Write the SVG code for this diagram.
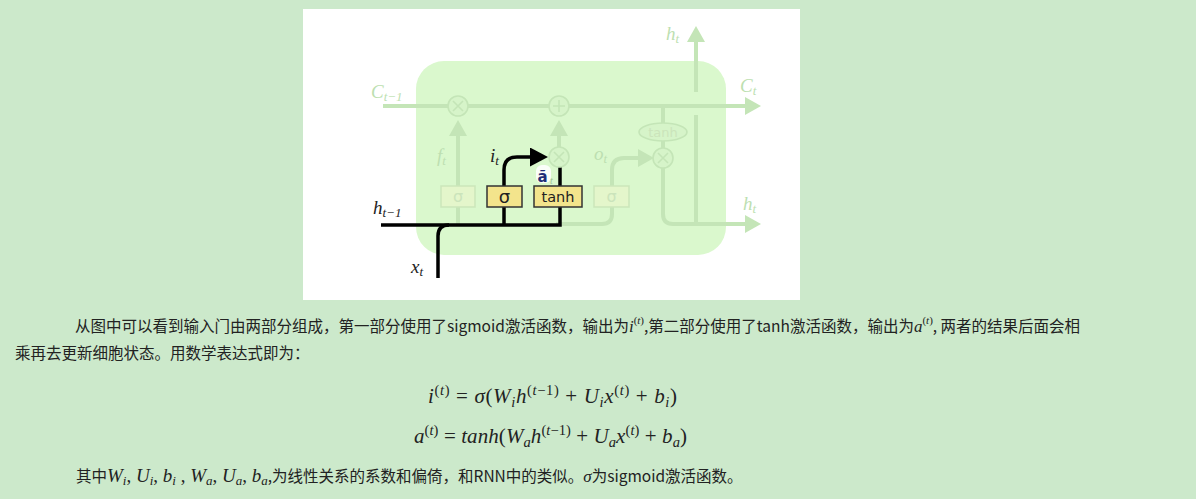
<svg xmlns="http://www.w3.org/2000/svg" width="1196" height="499" viewBox="0 0 1196 499">
<defs>
<style>
.fl{fill:none;stroke:#c4e5b7;stroke-width:4}
.bl{fill:none;stroke:#000;stroke-width:3.5}
.fc{fill:#d6f4c9;stroke:#c4e5b7;stroke-width:1.6}
.fx{stroke:#c4e5b7;stroke-width:1.6}
.fb{fill:#e4f6cb;stroke:#cbe6ba;stroke-width:1.5}
.yb{fill:#f3e48c;stroke:#333;stroke-width:1.5}
.lab{font-family:"Liberation Serif",serif;font-style:italic;font-size:19px;fill:#bddfb1}
.blab{font-family:"Liberation Serif",serif;font-style:italic;font-size:19px;fill:#222}
.sb{font-size:13px}
.bt{font-family:"DejaVu Sans",sans-serif;fill:#222;text-anchor:middle}
.ft{font-family:"DejaVu Sans",sans-serif;fill:#cbe4bb;text-anchor:middle}
.cn{font-family:"Noto Sans CJK SC","Noto Sans",sans-serif;font-size:15.5px;fill:#222}
.m{font-family:"Liberation Serif",serif;font-style:italic}
.u{font-style:normal}
.eq{font-family:"Liberation Serif",serif;font-style:italic;font-size:21px;fill:#222}
.s2{font-size:14.5px}
</style>
<marker id="af" markerUnits="userSpaceOnUse" markerWidth="16" markerHeight="18" viewBox="0 0 16 18" refX="0" refY="9" orient="auto"><path d="M0,0 L16,9 L0,18 z" fill="#c4e5b7"/></marker>
<marker id="ab" markerUnits="userSpaceOnUse" markerWidth="18" markerHeight="19" viewBox="0 0 18 19" refX="0" refY="9.5" orient="auto"><path d="M0,0 L18,9.5 L0,19 z" fill="#000"/></marker>
</defs>

<rect width="1196" height="499" fill="#cce9cb"/>
<rect x="303" y="9" width="497" height="291" fill="#fff"/>

<g id="cell">
<rect x="416" y="61" width="310" height="194" rx="28" fill="#daf8cd"/>
</g>

<g id="connectors">
<path class="fl" d="M383,106 H745" marker-end="url(#af)"/>
<path class="fl" d="M458,225 V136" marker-end="url(#af)"/>
<path class="fl" d="M559,147 V136" marker-end="url(#af)"/>
<path class="fl" d="M663,106 V158"/>
<path class="fl" d="M663,168 V214 Q663,224 673,224 H745" marker-end="url(#af)"/>
<path class="fl" d="M696,115 V224"/>
<path class="fl" d="M696,92 V42" marker-end="url(#af)"/>
<path class="fl" d="M556,224 H602 Q612,224 612,214 V170 Q612,158 624,158 H638" marker-end="url(#af)"/>
<path class="bl" d="M381,225 H560 V167"/>
<path class="bl" d="M438,278 V236 Q438,225 449,225"/>
<path class="bl" d="M504,225 V170 Q504,157 517,157 H530" marker-end="url(#ab)"/>
</g>

<g id="forget-mul"><circle class="fc" cx="458" cy="106" r="10"/><path class="fx" d="M453,101 L463,111 M463,101 L453,111"/></g>
<g id="add"><circle class="fc" cx="559" cy="106" r="10"/><path class="fx" d="M559,100 V112 M553,106 H565"/></g>
<g id="input-mul"><circle class="fc" cx="559" cy="157" r="10"/><path class="fx" d="M554,152 L564,162 M564,152 L554,162"/></g>
<g id="out-mul"><circle class="fc" cx="663" cy="158" r="10"/><path class="fx" d="M658,153 L668,163 M668,153 L658,163"/></g>
<g id="tanh-cell"><ellipse cx="663" cy="132" rx="24" ry="9" fill="#d6f4c9" stroke="#c4e5b7" stroke-width="1.6"/><text class="ft" x="663" y="137" font-size="13">tanh</text></g>
<g id="forget-gate"><rect class="fb" x="441" y="186" width="34" height="21"/><text class="ft" x="458" y="202" font-size="16">σ</text></g>
<g id="output-gate"><rect class="fb" x="594" y="186" width="35" height="21"/><text class="ft" x="611.5" y="202" font-size="16">σ</text></g>
<g id="input-gate"><rect class="yb" x="487" y="186" width="35" height="21"/><text class="bt" x="504.5" y="202.5" font-size="18">σ</text></g>
<g id="tanh-gate"><rect class="yb" x="534" y="186" width="48" height="21"/><text class="bt" x="558" y="201.5" font-size="14.5">tanh</text></g>

<g id="labels">
<text class="lab" x="371" y="98">C<tspan class="sb" dy="3">t−1</tspan></text>
<text class="lab" x="740" y="92">C<tspan class="sb" dy="3">t</tspan></text>
<text class="lab" x="666" y="40">h<tspan class="sb" dy="3">t</tspan></text>
<text class="lab" x="743" y="210">h<tspan class="sb" dy="3">t</tspan></text>
<text class="lab" x="437" y="162">f<tspan class="sb" dy="3">t</tspan></text>
<text class="lab" x="594" y="160">o<tspan class="sb" dy="3">t</tspan></text>
<text class="blab" x="490" y="162">i<tspan class="sb" dy="3">t</tspan></text>
<text class="blab" x="373" y="214">h<tspan class="sb" dy="3">t−1</tspan></text>
<text class="blab" x="411" y="273">x<tspan class="sb" dy="3">t</tspan></text>
<rect x="536" y="165" width="15" height="18" rx="6" fill="#fff" opacity="0.85"/>
<text x="537.5" y="181.5" font-family="DejaVu Sans,sans-serif" font-size="15" font-weight="bold" fill="#1f2f78">ã</text>
<text x="550" y="184" font-family="Liberation Serif,serif" font-style="italic" font-size="10" fill="#9fbf94">t</text>
</g>

<g id="paragraph">
<text class="cn" x="75" y="332">从图中可以看到输入门由两部分组成，第一部分使用了sigmoid激活函数，输出为<tspan class="m" font-size="17">i</tspan><tspan class="m u" font-size="11" dy="-8">(</tspan><tspan class="m" font-size="11">t</tspan><tspan class="m u" font-size="11">)</tspan><tspan dy="8">,第二部分使用了tanh激活函数，输出为</tspan><tspan class="m" font-size="17">a</tspan><tspan class="m u" font-size="11" dy="-8">(</tspan><tspan class="m" font-size="11">t</tspan><tspan class="m u" font-size="11">)</tspan><tspan dy="8">, 两者的结果后面会相</tspan></text>
<text class="cn" x="15" y="359">乘再去更新细胞状态。用数学表达式即为：</text>
</g>

<g id="equations">
<text class="eq" x="428" y="403" textLength="249" lengthAdjust="spacing">i<tspan class="s2 u" dy="-8">(</tspan><tspan class="s2">t</tspan><tspan class="s2 u">)</tspan><tspan class="u" dy="8"> = </tspan>σ<tspan class="u">(</tspan>W<tspan class="s2" dy="4">i</tspan><tspan dy="-4">h</tspan><tspan class="s2 u" dy="-8">(</tspan><tspan class="s2">t</tspan><tspan class="s2 u">−1)</tspan><tspan class="u" dy="8"> + </tspan>U<tspan class="s2" dy="4">i</tspan><tspan dy="-4">x</tspan><tspan class="s2 u" dy="-8">(</tspan><tspan class="s2">t</tspan><tspan class="s2 u">)</tspan><tspan class="u" dy="8"> + </tspan>b<tspan class="s2" dy="4">i</tspan><tspan class="u" dy="-4">)</tspan></text>
<text class="eq" x="414" y="443" textLength="273" lengthAdjust="spacing">a<tspan class="s2 u" dy="-8">(</tspan><tspan class="s2">t</tspan><tspan class="s2 u">)</tspan><tspan class="u" dy="8"> = </tspan>tanh<tspan class="u">(</tspan>W<tspan class="s2" dy="4">a</tspan><tspan dy="-4">h</tspan><tspan class="s2 u" dy="-8">(</tspan><tspan class="s2">t</tspan><tspan class="s2 u">−1)</tspan><tspan class="u" dy="8"> + </tspan>U<tspan class="s2" dy="4">a</tspan><tspan dy="-4">x</tspan><tspan class="s2 u" dy="-8">(</tspan><tspan class="s2">t</tspan><tspan class="s2 u">)</tspan><tspan class="u" dy="8"> + </tspan>b<tspan class="s2" dy="4">a</tspan><tspan class="u" dy="-4">)</tspan></text>
</g>

<g id="note">
<text class="cn" x="76" y="482">其中<tspan class="m" font-size="19">W</tspan><tspan class="m" font-size="13" dy="3">i</tspan><tspan class="m u" font-size="19" dy="-3">, </tspan><tspan class="m" font-size="19">U</tspan><tspan class="m" font-size="13" dy="3">i</tspan><tspan class="m u" font-size="19" dy="-3">, </tspan><tspan class="m" font-size="19">b</tspan><tspan class="m" font-size="13" dy="3">i</tspan><tspan class="m u" font-size="19" dy="-3"> , </tspan><tspan class="m" font-size="19">W</tspan><tspan class="m" font-size="13" dy="3">a</tspan><tspan class="m u" font-size="19" dy="-3">, </tspan><tspan class="m" font-size="19">U</tspan><tspan class="m" font-size="13" dy="3">a</tspan><tspan class="m u" font-size="19" dy="-3">, </tspan><tspan class="m" font-size="19">b</tspan><tspan class="m" font-size="13" dy="3">a</tspan><tspan dy="-3">,为线性关系的系数和偏倚，和RNN中的类似。</tspan><tspan class="m" font-size="17">σ</tspan><tspan>为sigmoid激活函数。</tspan></text>
</g>
</svg>
